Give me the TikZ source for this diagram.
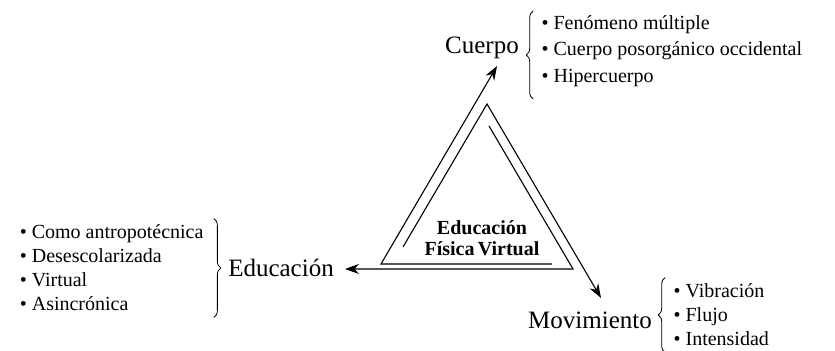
\documentclass[tikz,border=0pt]{standalone}
\usepackage{fontspec}
\setmainfont{Liberation Serif}
\usepackage{tikz}
\usetikzlibrary{positioning,arrows.meta,decorations.pathreplacing}

\begin{document}
\begin{tikzpicture}[
x=0.5pt,y=-0.5pt,
big/.style={inner sep=0pt,font=\fontsize{12.5}{15}\selectfont},
lst/.style={inner sep=0pt,align=left,font=\fontsize{10}{12}\selectfont},
flow/.style={line width=0.55pt,-{Stealth[length=7pt,width=5pt]}},
brc/.style={line width=0.4pt,decorate,decoration={brace,amplitude=3.5pt}}
]
\useasboundingbox (0,0) rectangle (835,351);
% corners of the triangle
\coordinate (c1) at (381,264);
\coordinate (c2) at (487,104);
\coordinate (c3) at (573,269);
\coordinate (s1) at (552,264);
\coordinate (s2) at (403,247);
\coordinate (s3) at (489,126);
% arrow tips
\coordinate (t1) at (497,66);
\coordinate (t2) at (601,298);
\coordinate (t3) at (345,269);

\node [big] (cuerpo) at (482,48) {Cuerpo};
\node [big] (edu) at (281,268) {Educación};
\node [big] (mov) at (590,320) {Movimiento};
\node [inner sep=0pt,align=center,font=\fontsize{10}{10.5}\selectfont\bfseries] (efv) at (482,238) {Educación\\Física\,Virtual};

\draw [flow] (s1) -- (c1) -- (t1);
\draw [flow] (s2) -- (c2) -- (t2);
\draw [flow] (s3) -- (c3) -- (t3);

\node [lst, right=11pt of cuerpo, yshift=-1.5pt] (cuerpol) {\textbullet\ Fenómeno múltiple\\[1.25pt] \textbullet\ Cuerpo posorgánico occidental\\[1.25pt] \textbullet\ Hipercuerpo};
\node [lst, left=12pt of edu] (edul) {\textbullet\ Como antropotécnica\\ \textbullet\ Desescolarizada\\ \textbullet\ Virtual\\ \textbullet\ Asincrónica};
\node [lst, right=10.5pt of mov, yshift=2.5pt] (movl) {\textbullet\ Vibración\\ \textbullet\ Flujo\\ \textbullet\ Intensidad};

\draw [brc] ([xshift=-4pt,yshift=-6pt]cuerpol.south west) -- ([xshift=-4pt,yshift=2pt]cuerpol.north west);
\draw [brc] ([xshift=5pt,yshift=3pt]edul.north east) -- ([xshift=5pt,yshift=-3pt]edul.south east);
\draw [brc] ([xshift=-4pt,yshift=-3pt]movl.south west) -- ([xshift=-4pt,yshift=3pt]movl.north west);
\end{tikzpicture}
\end{document}
